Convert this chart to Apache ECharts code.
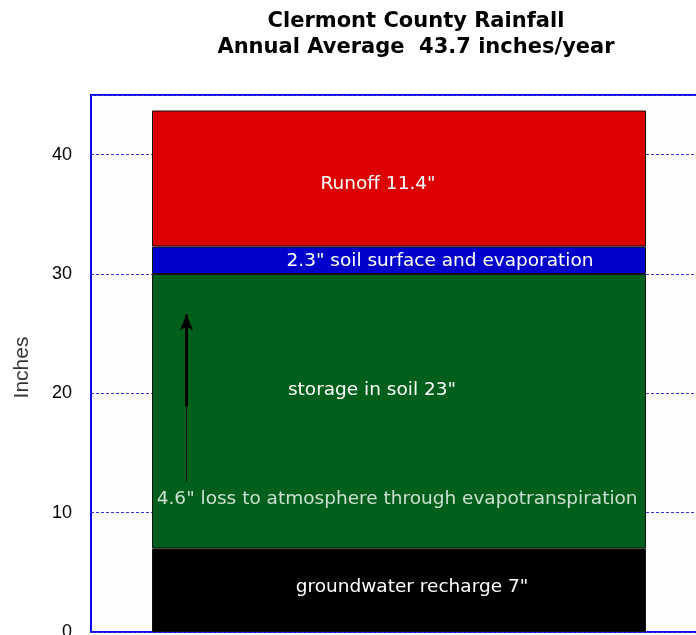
<!DOCTYPE html>
<html>
<head>
<meta charset="utf-8">
<script src="https://cdn.jsdelivr.net/npm/echarts@6/dist/echarts.min.js"></script>
<style>
  html, body { margin: 0; padding: 0; background: #fff; overflow: hidden; }
  #chart { width: 720px; height: 660px; }
</style>
</head>
<body>
<div id="chart"></div>
<script>
// data
const categories = ['Rainfall'];
const groundwater = [7];
const storage = [23];
const surface = [2.3];
const runoff = [11.4];
const yTicks = [0, 10, 20, 30, 40];

// annotation (x on a 0..1 helper axis, y in inches)
const lossLabel = [[0.497, 11.1]];
const arrowX = 0.155;
const arrowThin = [12.6, 18.9];
const arrowThick = [18.9, 26.6];

const chart = echarts.init(document.getElementById('chart'));
const font = 'Liberation Sans, Arial, sans-serif';
const wideFont = 'DejaVu Sans, sans-serif';

const segLabel = (text, offset) => ({
  show: true,
  position: 'inside',
  formatter: text,
  color: '#fff',
  fontSize: 18.5,
  fontFamily: wideFont,
  offset: offset
});

const option = {
  backgroundColor: '#fff',
  animation: false,
  title: {
    text: 'Clermont County Rainfall\nAnnual Average  43.7 inches/year',
    left: 411,
    top: 4,
    textAlign: 'center',
    textStyle: {
      fontSize: 21,
      fontWeight: 'bold',
      fontFamily: wideFont,
      color: '#000',
      lineHeight: 26
    }
  },
  grid: {
    left: 91,
    right: 13,
    top: 95,
    bottom: 28,
    show: true,
    backgroundColor: '#fdfdfb',
    borderColor: '#0a0ae8',
    borderWidth: 2
  },
  xAxis: [
    {
      type: 'category',
      data: categories,
      show: false
    },
    {
      type: 'value',
      min: 0,
      max: 1,
      show: false
    }
  ],
  yAxis: {
    type: 'value',
    min: 0,
    max: 45,
    interval: 10,
    name: 'Inches',
    nameLocation: 'middle',
    nameGap: 58,
    nameTextStyle: { fontSize: 21, fontFamily: font, color: '#333', padding: [0, 8, 0, 0] },
    axisLine: { show: false },
    axisTick: { show: false },
    axisLabel: {
      color: '#000',
      fontSize: 18,
      fontFamily: font,
      margin: 19,
      formatter: (v) => (yTicks.includes(v) ? String(v) : '')
    },
    splitLine: {
      lineStyle: { color: '#3434dc', type: [3, 2], width: 1 }
    }
  },
  series: [
    {
      name: 'groundwater',
      type: 'bar',
      stack: 'rain',
      barWidth: 494,
      data: groundwater,
      itemStyle: { color: '#000', borderColor: '#111', borderWidth: 1 },
      label: segLabel('groundwater recharge 7"', [13, -3])
    },
    {
      name: 'storage',
      type: 'bar',
      stack: 'rain',
      data: storage,
      itemStyle: { color: '#005f1a', borderColor: '#111', borderWidth: 1 },
      label: segLabel('storage in soil 23"', [-27, -21])
    },
    {
      name: 'surface',
      type: 'bar',
      stack: 'rain',
      data: surface,
      itemStyle: { color: '#0000cc', borderColor: '#111', borderWidth: 1 },
      label: segLabel('2.3" soil surface and evaporation', [41, 1])
    },
    {
      name: 'runoff',
      type: 'bar',
      stack: 'rain',
      data: runoff,
      itemStyle: { color: '#dd0000', borderColor: '#111', borderWidth: 1 },
      label: segLabel('Runoff 11.4"', [-21, 6])
    },
    {
      name: 'loss',
      type: 'scatter',
      xAxisIndex: 1,
      data: lossLabel,
      symbolSize: 0,
      silent: true,
      label: {
        show: true,
        position: 'inside',
        formatter: '4.6" loss to atmosphere through evapotranspiration',
        color: '#fff',
        fontSize: 18.5,
        fontFamily: wideFont
      },
      markLine: {
        silent: true,
        label: { show: false },
        data: [
          [
            { coord: [arrowX, arrowThin[0]], symbol: 'none', lineStyle: { color: '#111', width: 1, type: 'solid' } },
            { coord: [arrowX, arrowThin[1]], symbol: 'none' }
          ],
          [
            { coord: [arrowX, arrowThick[0]], symbol: 'none', lineStyle: { color: '#000', width: 3, type: 'solid' } },
            { coord: [arrowX, arrowThick[1]], symbol: 'arrow', symbolSize: [10, 16] }
          ]
        ]
      }
    }
  ]
};

chart.setOption(option);
</script>
</body>
</html>
